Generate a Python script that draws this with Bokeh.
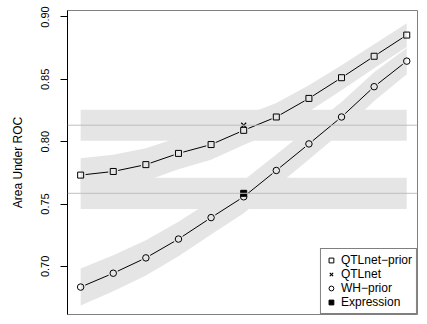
import math
from bokeh.plotting import figure
from bokeh.models import Range1d, FixedTicker, NumeralTickFormatter, Span, Legend, LegendItem
from bokeh.embed import file_html
from bokeh.resources import INLINE

# ---- data ----
x = [1, 2, 3, 4, 5, 6, 7, 8, 9, 10, 11]
qtlnet_prior = [0.7732, 0.7761, 0.7816, 0.7906, 0.7977, 0.8091, 0.8198, 0.8347, 0.8513, 0.8685, 0.8855]
qtlnet_prior_hw = [0.0135, 0.0135, 0.0132, 0.0128, 0.0122, 0.0117, 0.0112, 0.0105, 0.0100, 0.0097, 0.0095]
wh_prior = [0.6834, 0.6945, 0.7068, 0.7219, 0.7391, 0.7558, 0.7769, 0.7982, 0.8198, 0.8441, 0.8646]
wh_prior_hw = [0.0148, 0.0145, 0.0142, 0.0138, 0.0135, 0.0132, 0.0128, 0.0125, 0.0120, 0.0115, 0.0105]
qtlnet_x = [6]
qtlnet_auc = [0.8132]
qtlnet_hw = 0.0125
expr_x = [6]
expr_auc = [0.7586]
expr_hw = 0.0125
y_ticks = [0.70, 0.75, 0.80, 0.85, 0.90]

FONT = "Liberation Sans"
BAND = "#e5e5e5"

W, H = 419, 316
ML, MR, MT, MB = 67, 2, 10, 2
x0r, x1r = 0.597, 11.33
y0r, y1r = 0.6614, 0.9052

p = figure(width=W, height=H, x_range=Range1d(x0r, x1r), y_range=Range1d(y0r, y1r),
           output_backend="svg", toolbar_location=None,
           min_border_left=ML, min_border_right=MR, min_border_top=MT, min_border_bottom=MB)
p.grid.visible = False
p.xaxis.visible = False
p.outline_line_color = "#808080"
p.outline_line_width = 1

# bands
p.varea(x=x, y1=[v - h for v, h in zip(qtlnet_prior, qtlnet_prior_hw)],
        y2=[v + h for v, h in zip(qtlnet_prior, qtlnet_prior_hw)], fill_color=BAND)
p.varea(x=x, y1=[v - h for v, h in zip(wh_prior, wh_prior_hw)],
        y2=[v + h for v, h in zip(wh_prior, wh_prior_hw)], fill_color=BAND)
xe = [x[0], x[-1]]
p.varea(x=xe, y1=[qtlnet_auc[0] - qtlnet_hw] * 2, y2=[qtlnet_auc[0] + qtlnet_hw] * 2, fill_color=BAND)
p.varea(x=xe, y1=[expr_auc[0] - expr_hw] * 2, y2=[expr_auc[0] + expr_hw] * 2, fill_color=BAND)

for loc in (qtlnet_auc[0], expr_auc[0]):
    p.add_layout(Span(location=loc, dimension="width", line_color="#bebebe", line_width=1))

# lines with gaps around points (R type="b")
sx = (W - ML - MR) / (x1r - x0r)
sy = (H - MT - MB) / (y1r - y0r)
GAP = 5.0

def gapped(xs, ys):
    a0, b0, a1, b1 = [], [], [], []
    for i in range(len(xs) - 1):
        dx, dy = xs[i + 1] - xs[i], ys[i + 1] - ys[i]
        L = math.hypot(dx * sx, dy * sy)
        f = GAP / L
        a0.append(xs[i] + f * dx); b0.append(ys[i] + f * dy)
        a1.append(xs[i + 1] - f * dx); b1.append(ys[i + 1] - f * dy)
    return a0, b0, a1, b1

for ys in (qtlnet_prior, wh_prior):
    a0, b0, a1, b1 = gapped(x, ys)
    p.segment(x0=a0, y0=b0, x1=a1, y1=b1, line_color="black", line_width=1)

r_sq = p.scatter(x, qtlnet_prior, marker="square", size=6, line_color="black",
                 fill_alpha=0, line_width=1)
r_wh = p.scatter(x, wh_prior, marker="circle", size=6.5, line_color="black",
                 fill_alpha=0, line_width=1)
r_q = p.scatter(qtlnet_x, qtlnet_auc, marker="x", size=7, line_color="black", line_width=1.2)
r_e = p.scatter(expr_x, expr_auc, marker="square", size=6, line_color="black",
                fill_color="black", line_width=1)

# y axis
ax = p.yaxis[0]
ax.ticker = FixedTicker(ticks=y_ticks)
ax.formatter = NumeralTickFormatter(format="0.00")
ax.minor_tick_line_color = None
ax.major_tick_out = 7
ax.major_tick_in = 0
ax.major_label_orientation = "vertical"
ax.major_label_standoff = 11
ax.major_label_text_font = FONT
ax.major_label_text_font_size = "11px"
ax.major_label_text_color = "black"
ax.axis_line_color = "black"
ax.major_tick_line_color = "black"
ax.axis_label = "Area Under ROC"
ax.axis_label_text_font = FONT
ax.axis_label_text_font_size = "12px"
ax.axis_label_text_font_style = "normal"
ax.axis_label_text_color = "black"
ax.axis_label_standoff = 14

legend = Legend(items=[
    LegendItem(label="QTLnet\u2212prior", renderers=[r_sq]),
    LegendItem(label="QTLnet", renderers=[r_q]),
    LegendItem(label="WH\u2212prior", renderers=[r_wh]),
    LegendItem(label="Expression", renderers=[r_e]),
], location="bottom_right")
legend.margin = 0
legend.padding = 4
legend.spacing = 0
legend.glyph_width = 12
legend.glyph_height = 14
legend.label_height = 14
legend.label_standoff = 4
legend.label_text_font = FONT
legend.label_text_font_size = "12px"
legend.label_text_color = "black"
legend.border_line_color = "black"
legend.border_line_width = 1
legend.background_fill_color = "white"
legend.background_fill_alpha = 1
p.add_layout(legend)

open("out.html", "w").write(file_html(p, INLINE))
